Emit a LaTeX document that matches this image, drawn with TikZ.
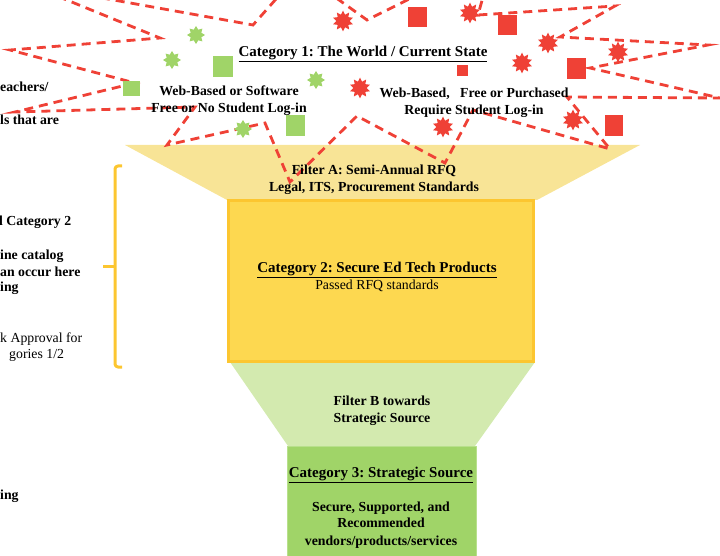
\documentclass[tikz,border=0pt]{standalone}
\usepackage{fontspec}
\setmainfont{Liberation Serif}
\usetikzlibrary{shapes.geometric}
\frenchspacing

\definecolor{burst}{HTML}{EF4136}
\definecolor{leaf}{HTML}{A0D468}
\definecolor{leafedge}{HTML}{B8E08C}
\definecolor{gold}{HTML}{FDD850}
\definecolor{goldedge}{HTML}{FCC630}
\definecolor{sieveA}{HTML}{F8E496}
\definecolor{sieveB}{HTML}{D3EAAF}

\tikzset{
  lbl/.style={font=\fontsize{13.8}{16.8}\selectfont\bfseries, align=center, inner sep=0pt},
  plain/.style={font=\fontsize{13.8}{16.8}\selectfont, align=center, inner sep=0pt},
  ttl/.style={font=\fontsize{15}{17}\selectfont\bfseries, inner sep=0pt},
  side/.style={font=\fontsize{13.8}{16}\selectfont\bfseries, anchor=west, inner sep=0pt},
  sidelight/.style={font=\fontsize{13.8}{16}\selectfont, anchor=west, inner sep=0pt},
  burstline/.style={draw=burst, line width=2.8pt, dash pattern=on 9pt off 6pt, line join=miter},
  gstar/.style={star, star points=8, star point ratio=1.55, minimum size=18pt, inner sep=0pt, fill=leaf},
  rstar/.style={star, star points=10, star point ratio=1.6, minimum size=21pt, inner sep=0pt, fill=burst},
  gsq/.style={rectangle, fill=leaf, inner sep=0pt},
  rsq/.style={rectangle, fill=burst, inner sep=0pt},
}

\begin{document}
\begin{tikzpicture}[x=1pt, y=-1pt]
\useasboundingbox (0,0) rectangle (720,556);
\clip (0,0) rectangle (720,556);

% funnel: filter A, category 2, filter B, category 3
\fill[sieveA] (125,145) -- (640,145) -- (537,200) -- (227,200) -- cycle;
\fill[sieveB] (230,362) -- (535,362) -- (475,446) -- (288,446) -- cycle;
\node[draw=goldedge, fill=gold, line width=3pt, minimum width=305pt, minimum height=160pt, inner sep=0pt] (cat2) at (381,281) {};
\node[draw=leafedge, fill=leaf, line width=1pt, minimum width=189pt, minimum height=130pt, inner sep=0pt] (cat3) at (381.5,511) {};

% bracket along the left side
\draw[goldedge, line width=3pt, line join=round, rounded corners=3pt]
  (122,166) -- (115,166) -- (115,266) -- (115,367) -- (122,367);
\draw[goldedge, line width=3pt] (115,266) -- (103,266);

% starburst outline of category 1
\draw[burstline]
  (30,-15) -- (160,38) -- (10,50) -- (135,83) -- (15,112) -- (195,107)
  -- (167,145) -- (265,123) -- (290,182) -- (357,116) -- (445,163)
  -- (473,110) -- (610,149) -- (567,97) -- (720,98) -- (590,68)
  -- (708,45) -- (560,37) -- (615,6) -- (478,15) -- (494,-43)
  -- (367,20) -- (300,-28) -- (253,25) -- cycle;

% green items
\node[gstar] (gs1) at (196,35) {};
\node[gstar] (gs2) at (172,60) {};
\node[gstar] (gs3) at (316,80) {};
\node[gstar] (gs4) at (243,129) {};
\node[gsq, minimum width=20pt, minimum height=21pt] (gq1) at (223,67) {};
\node[gsq, minimum width=17pt, minimum height=15pt] (gq2) at (131,89) {};
\node[gsq, minimum width=19pt, minimum height=21pt] (gq3) at (295,126) {};

% red items
\node[rstar] (rs1) at (343,21) {};
\node[rstar] (rs2) at (470,13) {};
\node[rstar] (rs3) at (548,43) {};
\node[rstar] (rs4) at (618,52) {};
\node[rstar] (rs5) at (522,63) {};
\node[rstar] (rs6) at (360,88) {};
\node[rstar] (rs7) at (443,127) {};
\node[rstar] (rs8) at (573,120) {};
\node[rsq, minimum width=19pt, minimum height=20pt] (rq1) at (417,17) {};
\node[rsq, minimum width=19pt, minimum height=20pt] (rq2) at (507,25) {};
\node[rsq, minimum width=11pt, minimum height=11pt] (rq3) at (462,71) {};
\node[rsq, minimum width=19pt, minimum height=21pt] (rq4) at (576,69) {};
\node[rsq, minimum width=18pt, minimum height=21pt] (rq5) at (614,126) {};

% texts
\node[ttl] (t1) at (363,54) {\underline{Category 1: The World / Current State}};
\node[lbl] (free) at (229,100.5) {Web-Based or Software\\Free or No Student Log-in};
\node[lbl] (login) at (474,102.5) {Web-Based,\ \ \ Free or Purchased\\Require Student Log-in};
\node[lbl] (fA) at (374,180) {Filter A: Semi-Annual RFQ\\Legal, ITS, Procurement Standards};
\node[ttl] (t2) at (377,270) {\underline{Category 2: Secure Ed Tech Products}};
\node[plain] (p2) at (377,286) {Passed RFQ standards};
\node[lbl] (fB) at (382,411) {Filter B towards\\Strategic Source};
\node[ttl] (t3) at (381,475) {\underline{Category 3: Strategic Source}};
\node[lbl] (p3) at (381,525) {Secure, Supported, and\\[-0.5pt]Recommended\\[0.5pt]vendors/products/services};

% left-hand notes
\node[side] (n1) at (0,87) {eachers/};
\node[side] (n2) at (0,120) {ls that are};
\node[side] (n3) at (-1,222) {l Category 2};
\node[side] (n4) at (0,256) {ine catalog};
\node[side] (n5) at (0,272) {an occur here};
\node[side] (n6) at (0,288) {ing};
\node[sidelight] (n7) at (0,339) {k Approval for};
\node[sidelight] (n8) at (9,355) {gories 1/2};
\node[side] (n9) at (0,496) {ing};
\end{tikzpicture}
\end{document}
